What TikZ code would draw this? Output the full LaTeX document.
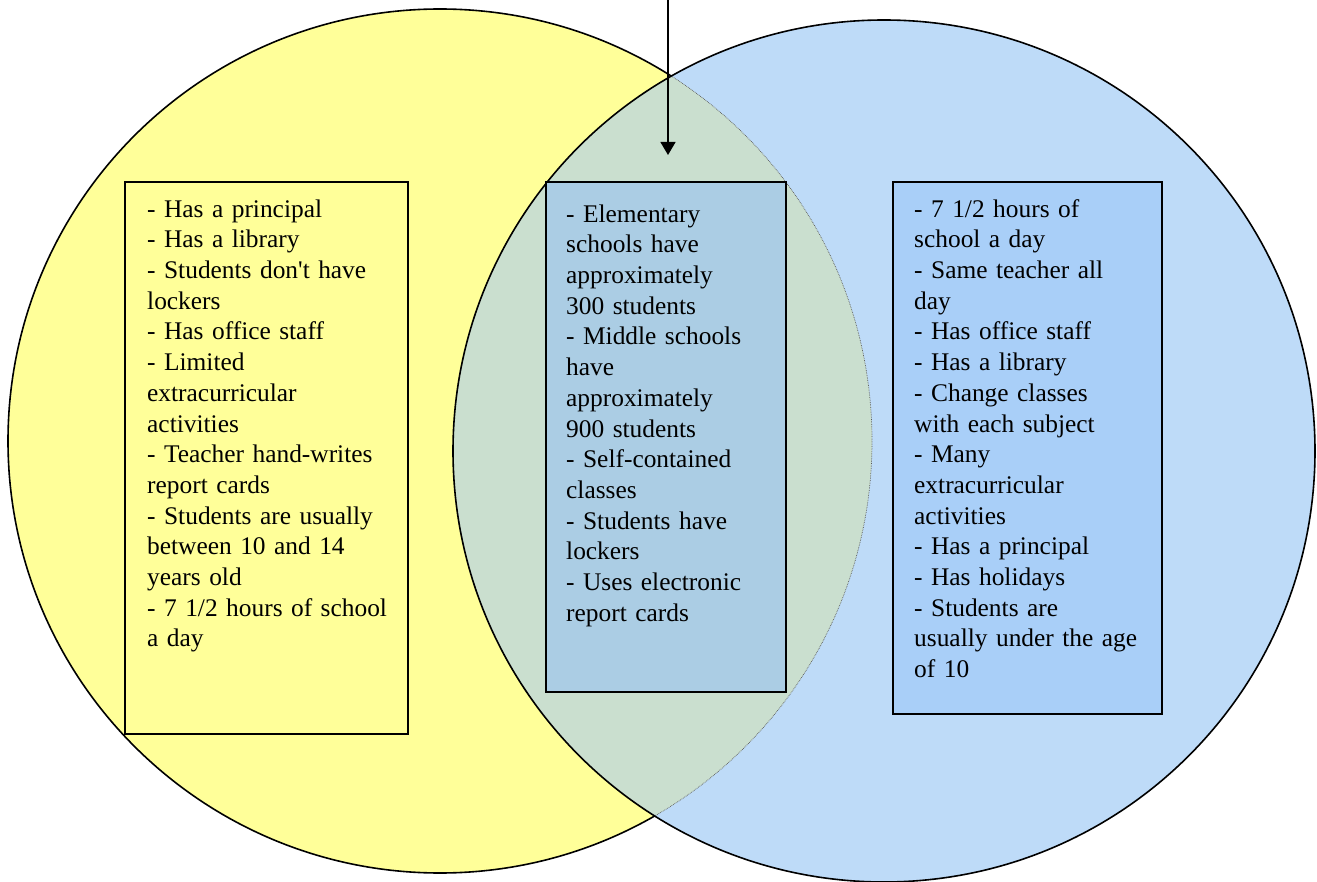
\documentclass[tikz,border=0pt]{standalone}
\usepackage{fontspec}
\setmainfont{Liberation Serif}
\usetikzlibrary{arrows.meta}
\definecolor{yel}{HTML}{FFFF99}
\definecolor{blu}{HTML}{BEDBF8}
\definecolor{ovl}{HTML}{CADFCF}
\definecolor{rbox}{HTML}{A9CFF8}
\definecolor{mbox}{HTML}{ABCDE4}
\tikzset{
  listbox/.style={draw=black, line width=2.2pt},
  listtext/.style={anchor=north west, inner sep=0pt, text width=270pt, align=left,
    font=\fontsize{25.4}{30.7}\selectfont},
  outline/.style={draw=black, line width=1.6pt}
}
\begin{document}
\begin{tikzpicture}[x=1pt,y=-1pt]
\useasboundingbox (0,0) rectangle (1317,882);
\coordinate (L) at (440,441);
\coordinate (R) at (884,451);
% fills
\fill[yel] (L) circle (432);
\fill[blu] (R) circle (431);
\begin{scope}
  \clip (L) circle (432);
  \fill[ovl] (R) circle (431);
\end{scope}
\draw[outline] (L) circle (432);
\begin{scope}
  \clip (R) circle (431);
  \draw[blu, line width=4pt] (L) circle (432);
  \begin{scope}
    \clip (L) circle (432);
    \fill[ovl] (R) circle (431);
  \end{scope}
  \draw[black!65, line width=0.7pt, densely dotted] (L) circle (432);
\end{scope}
\draw[outline] (R) circle (431);
% boxes
\draw[listbox, fill=yel] (125,182) rectangle (408,734);
\draw[listbox, fill=mbox] (546,182) rectangle (786,692);
\draw[listbox, fill=rbox] (893,182) rectangle (1162,714);
\node[listtext] (lt) at (147,195.5) {\strut- Has a principal\\
- Has a library\\
- Students don\textquotesingle t have\\
lockers\\
- Has office staff\\
- Limited\\
extracurricular\\
activities\\
- Teacher hand-writes\\
report cards\\
- Students are usually\\
between 10 and 14\\
years old\\
- 7 1/2 hours of school\\
a day};
\node[listtext] (mt) at (566,200.5) {\strut- Elementary\\
schools have\\
approximately\\
300 students\\
- Middle schools\\
have\\
approximately\\
900 students\\
- Self-contained\\
classes\\
- Students have\\
lockers\\
- Uses electronic\\
report cards};
\node[listtext] (rt) at (914,195.5) {\strut- 7 1/2 hours of\\
school a day\\
- Same teacher all\\
day\\
- Has office staff\\
- Has a library\\
- Change classes\\
with each subject\\
- Many\\
extracurricular\\
activities\\
- Has a principal\\
- Has holidays\\
- Students are\\
usually under the age\\
of 10};
% arrow
\coordinate (top) at (668,-2);
\coordinate (tip) at (668,155);
\draw[line width=1.3pt, -{Triangle[length=13pt,width=15pt]}] (top) -- (tip);
\end{tikzpicture}
\end{document}
